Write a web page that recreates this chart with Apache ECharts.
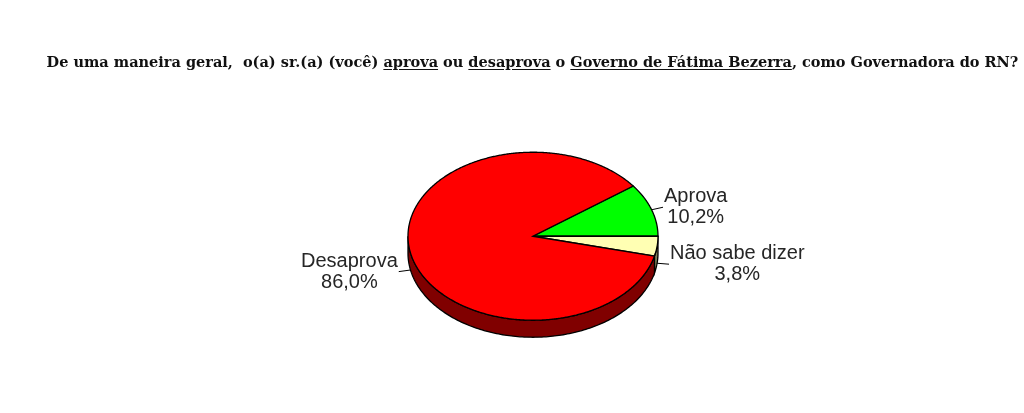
<!DOCTYPE HTML>
<html>
<head>
    <meta charset="UTF-8">
    <title>Governo de Fátima Bezerra</title>
    <style>
        html,body{margin:0;width:100%;height:100%;background:#fff;}
        #wrap{position:relative;width:1024px;height:413px;overflow:hidden;}
        #chart{position:absolute;left:0;top:0;width:1024px;height:413px;}
        #title{
            position:absolute;left:0;top:53px;width:1065px;
            text-align:center;white-space:nowrap;
            font:bold 14.5px "DejaVu Serif",serif;color:#111;
        }
        #title u{text-underline-offset:2px;}
    </style>
</head>
<body>
<div id="wrap">
    <div id="chart"></div>
    <div id="title">De uma maneira geral,&nbsp; o(a) sr.(a) (você) <u>aprova</u> ou <u>desaprova</u> o <u>Governo de Fátima Bezerra</u>, como Governadora do RN?</div>
</div>

<script src="https://cdn.jsdelivr.net/npm/echarts@6/dist/echarts.min.js"></script>
<script>
    // dados
    let categories = ['Aprova', 'Não sabe dizer', 'Desaprova'];
    let values = [10.2, 3.8, 86.0];
    let valueLabels = ['10,2%', '3,8%', '86,0%'];
    let topColors = ['#00ff00', '#ffffb3', '#ff0000'];
    let sideColors = ['#008000', '#80805a', '#800000'];

    // geometria da pizza "3D"
    const R = 125, TILT = 0.672, DEPTH = 17;
    const LABEL_FONT = '20px "Liberation Sans", Arial, sans-serif';

    let total = values.reduce((a, b) => a + b, 0);
    // Aprova termina exatamente às 3 horas
    let slices = [], acc = values[0] / total * 360;
    values.forEach(v => {
        let span = v / total * 360;
        slices.push([acc, acc - span]);
        acc -= span;
    });

    let ctx = document.createElement('canvas').getContext('2d');
    ctx.font = LABEL_FONT;
    function blockWidth(lines){
        return Math.max.apply(null, lines.map(t => ctx.measureText(t).width));
    }

    function renderItem(params, api){
        let i = params.dataIndex;
        let cx = api.getWidth() * 0.5205, cy = api.getHeight() * 0.572;
        let s = slices[i][0], e = slices[i][1];
        let pt = (deg, dy) => {
            let a = deg * Math.PI / 180;
            return [cx + R * Math.cos(a), cy - R * TILT * Math.sin(a) + dy];
        };
        let children = [];

        // lateral (apenas metade da frente)
        [0, -360].forEach(k => {
            let lo = Math.max(e, -180 + k), hi = Math.min(s, k);
            if (hi > lo) {
                let pts = [];
                for (let d = hi; d > lo; d -= 1) pts.push(pt(d, 0));
                pts.push(pt(lo, 0));
                for (let d = lo; d < hi; d += 1) pts.push(pt(d, DEPTH));
                pts.push(pt(hi, DEPTH));
                children.push({
                    type: 'polygon', shape: {points: pts},
                    style: {fill: sideColors[i], stroke: '#000', lineWidth: 1.3}
                });
            }
        });

        // topo
        let top = [[cx, cy]];
        for (let d = s; d > e; d -= 0.5) top.push(pt(d, 0));
        top.push(pt(e, 0));
        children.push({
            type: 'polygon', shape: {points: top},
            style: {fill: topColors[i], stroke: '#000', lineWidth: 1.3}
        });

        // rótulo com linha guia
        let mid = (s + e) / 2, a = mid * Math.PI / 180;
        let lower = Math.sin(a) < 0;
        let p0 = pt(mid, lower ? DEPTH : 0);
        let p1 = [p0[0] + 12 * Math.cos(a), p0[1] - 12 * TILT * Math.sin(a)];
        let dir = Math.cos(a) >= 0 ? 1 : -1;
        let lines = [categories[i], valueLabels[i]];
        let bw = blockWidth(lines);
        children.push({
            type: 'line',
            shape: {x1: p0[0], y1: p0[1], x2: p1[0], y2: p1[1]},
            style: {stroke: '#000', lineWidth: 1}
        });
        children.push({
            type: 'text',
            x: p1[0] + dir * (bw / 2 + 1),
            y: p1[1],
            style: {
                text: lines.join('\n'),
                font: LABEL_FONT,
                fill: '#262626',
                align: 'center', textAlign: 'center',
                verticalAlign: 'middle', textVerticalAlign: 'middle',
                lineHeight: 21
            }
        });

        return {type: 'group', children: children};
    }

    let mycharts = echarts.init(document.getElementById('chart'));
    mycharts.setOption({
        backgroundColor: '#fff',
        animation: false,
        series: [{
            type: 'custom',
            coordinateSystem: 'none',
            renderItem: renderItem,
            data: values.map((v, i) => ({name: categories[i], value: v}))
        }]
    });
</script>
</body>
</html>
